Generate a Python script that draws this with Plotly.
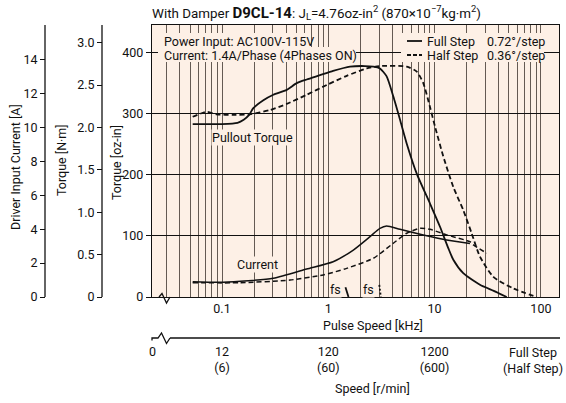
import plotly.graph_objects as go

# ---------------- data ----------------
# Pullout torque, full step (0.72 deg/step): pulse speed [kHz] vs torque [oz-in]
full_torque_khz = [0.053, 0.1, 0.14, 0.16, 0.18, 0.197, 0.245, 0.304, 0.406, 0.504, 0.626, 0.835,
                   1.11, 1.6, 2.2, 2.65, 3.06, 3.54, 4.09, 4.73, 5.47, 6.79, 9.05, 11.24, 13.45,
                   15.0, 18.6, 26.7, 36.0, 47.7]
full_torque_ozin = [283, 283, 285, 290, 298, 309, 322, 331, 339, 350, 356, 363,
                    370, 377, 378, 377, 374, 361, 328, 290, 251, 202, 153, 115, 80,
                    61, 39, 20, 10, 0]

# Pullout torque, half step (0.36 deg/step)
half_torque_khz = [0.053, 0.0718, 0.089, 0.128, 0.183, 0.283, 0.406, 0.626, 0.966, 1.49, 2.30,
                   3.06, 5.47, 6.79, 7.83, 9.05, 10.09, 12.07, 15.0, 18.62, 22.34, 26.7, 35.7,
                   55.0, 91.3]
half_torque_ozin = [295, 303, 299, 298, 299, 306, 316, 331, 347, 362, 374,
                    378, 377, 369, 350, 311, 279, 230, 180, 142, 104, 66, 33,
                    14, 0]

# Driver input current [A]
full_current_khz = [0.053, 0.103, 0.304, 0.626, 1.11, 1.72, 2.47, 3.06, 3.54, 4.73, 7.83, 13.0, 21.5]
full_current_a = [0.90, 0.87, 1.10, 1.65, 2.08, 2.77, 3.56, 4.05, 4.19, 3.99, 3.66, 3.36, 3.16]

half_current_khz = [0.053, 0.148, 0.436, 0.897, 1.49, 2.65, 4.09, 5.47, 7.29, 9.05, 13.0, 21.5,
                    23.2, 30.9]
half_current_a = [0.84, 0.84, 1.00, 1.30, 1.69, 2.28, 3.17, 3.76, 4.05, 3.99, 3.66, 3.26,
                  3.07, 2.58]

# Starting frequency (fs) markers
fs_full_khz = [1.45, 1.55]
fs_full_ozin = [16, 0]
fs_half_khz = [3.02, 3.12]
fs_half_ozin = [20, 0]

# Axis ticks
pulse_major = [0.1, 1, 10, 100]
pulse_labels = ["0.1", "1", "10", "100"]
pulse_minor = [round(m * d, 4) for d in (0.01, 0.1, 1, 10) for m in range(2, 10) if m * d >= 0.03]
speed_tickvals = [0.0222, 0.1, 1, 10]
speed_ticktext = ["0", "12<br>(6)", "120<br>(60)", "1200<br>(600)"]
ozin_ticks = [0, 100, 200, 300, 400]
nm_ticks = [0, 0.5, 1.0, 1.5, 2.0, 2.5, 3.0]
nm_labels = ["0", "0.5", "1.0", "1.5", "2.0", "2.5", "3.0"]
amp_ticks = [0, 2, 4, 6, 8, 10, 12, 14]

# ---------------- layout geometry ----------------
W, H = 566, 403
ML, MR, MT, MB = 0, 7, 25, 65
PW, PH = W - ML - MR, H - MT - MB
X_LEFT = 152          # left edge of plotting area (px)
X_RIGHT = W - MR      # right edge of plotting area (px)
Y_AXIS = 297          # bottom of plotting area (px)
DEC = 106.3           # px per decade
X_ONE = 328.3         # px position of 1 kHz
OZ_PX = 0.611         # px per oz-in
X_SPEED = 338         # px position of the speed axis line


def px(x):
    return (x - ML) / PW


def py(y):
    return (H - MB - y) / PH


def khz_at(x):
    return 10 ** ((x - X_ONE) / DEC)


def ozin_at(y):
    return (Y_AXIS - y) / OZ_PX


x_range = [(X_LEFT - X_ONE) / DEC, (X_RIGHT - X_ONE) / DEC]
y_top_ozin = (Y_AXIS - MT) / OZ_PX
y_top_nm = (Y_AXIS - MT) / 84.8
y_top_amp = (Y_AXIS - MT) / 16.96

FONT = "Roboto, Liberation Sans, sans-serif"
FS = 12.5
BG = "#fdf0e6"
INK = "#111111"
GRID_V = "#645a53"

fig = go.Figure()

# peach panels behind the header texts (hide the grid there)
for x0, y0, x1, y1 in [(158, 33, 310, 48), (158, 47, 356, 62), (401, 33, 544, 62)]:
    fig.add_trace(go.Scatter(
        x=[khz_at(x0), khz_at(x1), khz_at(x1), khz_at(x0), khz_at(x0)],
        y=[ozin_at(y0), ozin_at(y0), ozin_at(y1), ozin_at(y1), ozin_at(y0)],
        mode="lines", fill="toself", fillcolor=BG, line=dict(width=0, color=BG),
        hoverinfo="skip", name="panel"))

line_solid = dict(color=INK, width=1.8)
line_dash = dict(color=INK, width=1.8, dash="5px,3px")

fig.add_trace(go.Scatter(x=full_torque_khz, y=full_torque_ozin, mode="lines",
                         line=dict(line_solid, shape="spline", smoothing=0.6), name="Full Step"))
fig.add_trace(go.Scatter(x=half_torque_khz, y=half_torque_ozin, mode="lines",
                         line=dict(line_dash, shape="spline", smoothing=0.6), name="Half Step"))
fig.add_trace(go.Scatter(x=full_current_khz, y=full_current_a, mode="lines", yaxis="y3",
                         line=dict(color=INK, width=1.5, shape="spline", smoothing=0.6),
                         name="Full Step current"))
fig.add_trace(go.Scatter(x=half_current_khz, y=half_current_a, mode="lines", yaxis="y3",
                         line=dict(color=INK, width=1.5, dash="5px,3px", shape="spline", smoothing=0.6),
                         name="Half Step current"))
fig.add_trace(go.Scatter(x=fs_full_khz, y=fs_full_ozin, mode="lines", line=line_solid, name="fs full"))
fig.add_trace(go.Scatter(x=fs_half_khz, y=fs_half_ozin, mode="lines",
                         line=dict(color=INK, width=1.8, dash="2px,2px"), name="fs half"))
# empty series binding the speed axis and the N·m axis so they are drawn
fig.add_trace(go.Scatter(x=[], y=[], xaxis="x2", yaxis="y2", mode="lines", hoverinfo="skip",
                         name="scale"))

axis_font = dict(family=FONT, size=FS, color=INK)

fig.update_layout(
    width=W, height=H,
    margin=dict(l=ML, r=MR, t=MT, b=MB, pad=0),
    paper_bgcolor="white",
    plot_bgcolor=BG,
    showlegend=False,
    font=axis_font,
    xaxis=dict(
        type="log", range=x_range, domain=[px(X_LEFT), 1],
        tickmode="array", tickvals=pulse_major, ticktext=pulse_labels,
        ticks="", showgrid=True, gridcolor=GRID_V, gridwidth=1.3,
        minor=dict(tickmode="array", tickvals=pulse_minor, ticks="",
                   showgrid=True, gridcolor=GRID_V, gridwidth=1.3),
        showline=True, linecolor=INK, linewidth=1.3, mirror=True,
        zeroline=False, tickfont=axis_font, automargin=False,
    ),
    xaxis2=dict(
        type="log", range=x_range, overlaying="x", anchor="free", position=0, side="bottom",
        tickmode="array", tickvals=speed_tickvals, ticktext=speed_ticktext,
        ticks="", showgrid=False, showline=False, zeroline=False, ticklabelstandoff=4,
        tickfont=axis_font, automargin=False,
    ),
    yaxis=dict(
        range=[0, y_top_ozin], domain=[py(Y_AXIS), 1],
        tickmode="array", tickvals=ozin_ticks,
        ticks="outside", ticklen=5, tickwidth=1.2, tickcolor=INK,
        showgrid=True, gridcolor=INK, gridwidth=1.2, zeroline=False,
        showline=True, linecolor=INK, linewidth=1.3, mirror=True,
        tickfont=axis_font, automargin=False,
    ),
    yaxis2=dict(
        range=[0, y_top_nm], overlaying="y", anchor="free", position=px(102), side="left",
        tickmode="array", tickvals=nm_ticks, ticktext=nm_labels,
        ticks="outside", ticklen=5, tickwidth=1.2, tickcolor=INK,
        showgrid=False, zeroline=False, showline=False,
        tickfont=axis_font, automargin=False,
    ),
    yaxis3=dict(
        range=[0, y_top_amp], overlaying="y", anchor="free", position=px(45), side="left",
        tickmode="array", tickvals=amp_ticks,
        ticks="outside", ticklen=5, tickwidth=1.2, tickcolor=INK,
        showgrid=False, zeroline=False, showline=False,
        tickfont=axis_font, automargin=False,
    ),
)

ann = []


def text(x, y, s, xanchor="center", angle=0, size=FS, bg=None):
    d = dict(x=px(x), y=py(y), xref="paper", yref="paper", text=s, showarrow=False,
             xanchor=xanchor, yanchor="middle", textangle=angle,
             font=dict(family=FONT, size=size, color=INK))
    if bg:
        d.update(bgcolor=bg, borderpad=0)
    ann.append(d)


# title
text(150, 13, 'With Damper <b><span style="font-size:15px">D9CL-14</span></b>: '
     'J<sub>L</sub>=4.76oz-in<sup>2</sup> (870×10<sup>−7</sup>kg·m<sup>2</sup>)',
     xanchor="left", size=13.4)

# axis titles
text(15, 167, "Driver Input Current [A]", angle=-90)
text(61, 160, "Torque [N·m]", angle=-90)
text(117, 163, "Torque [oz-in]", angle=-90)
text(373, 325, "Pulse Speed [kHz]")
text(372, 388, "Speed [r/min]")
text(565, 360, "Full Step<br>(Half Step)", xanchor="right")

# conditions
ROW1, ROW2 = 41, 55
text(162, ROW1, "Power Input: AC100V-115V", xanchor="left")
text(162, ROW2, "Current: 1.4A/Phase (4Phases ON)", xanchor="left")

# legend
text(425, ROW1, "Full Step", xanchor="left")
text(485, ROW1, "0.72°/step", xanchor="left")
text(425, ROW2, "Half Step", xanchor="left")
text(485, ROW2, "0.36°/step", xanchor="left")

# curve labels
text(252, 137, "Pullout Torque", bg=BG)
text(257, 264, "Current", bg=BG)
text(335, 289, "fs", bg=BG)
text(368, 289, "fs", bg=BG)

fig.update_layout(annotations=ann)


def pth(points):
    return "M " + " L ".join(f"{px(a):.5f},{py(b):.5f}" for a, b in points)


def vline(x, y0, y1):
    return dict(type="line", xref="paper", yref="paper", x0=px(x), x1=px(x),
                y0=py(y0), y1=py(y1), line=dict(color=INK, width=1.3))


shapes = [
    # legend samples
    dict(type="line", xref="paper", yref="paper", x0=px(407), x1=px(422), y0=py(ROW1), y1=py(ROW1),
         line=dict(color=INK, width=1.8)),
    dict(type="line", xref="paper", yref="paper", x0=px(407), x1=px(422), y0=py(ROW2), y1=py(ROW2),
         line=dict(color=INK, width=1.8, dash="4px,2px")),
    # lines of the free axes
    vline(45, Y_AXIS, MT),
    vline(102, Y_AXIS, MT),
    dict(type="line", xref="paper", yref="paper", x0=px(170), x1=px(X_RIGHT + 1),
         y0=py(X_SPEED), y1=py(X_SPEED), line=dict(color=INK, width=1.3)),
    # axis break marks
    dict(type="path", xref="paper", yref="paper",
         path=pth([(159, 297), (162, 293.5), (166.5, 303), (170, 297)]),
         line=dict(color=INK, width=1.3)),
    dict(type="path", xref="paper", yref="paper",
         path=pth([(152, 340.5), (152, 338), (158, 338), (161.5, 333), (166.5, 343.5), (170, 338)]),
         line=dict(color=INK, width=1.3)),
]
fig.update_layout(shapes=shapes)

fig.write_html("out.html")
